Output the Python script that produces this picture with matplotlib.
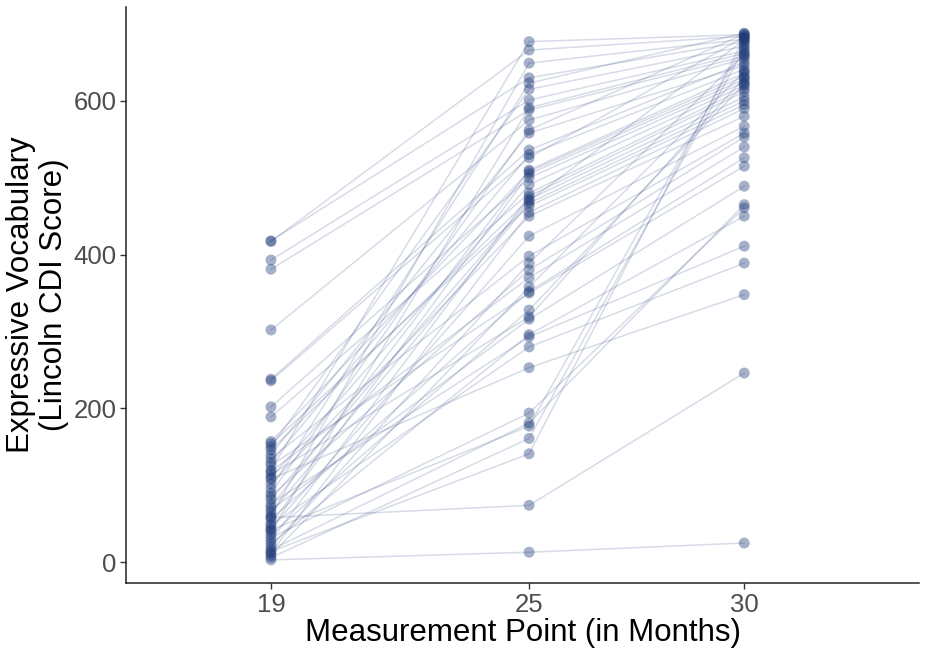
import matplotlib
matplotlib.use("Agg")
import matplotlib.pyplot as plt

plt.rcParams['font.family'] = ['Liberation Sans', 'DejaVu Sans']

months = [19, 25, 30]

# one entry per child: score at 19, 25 and 30 months
score_19 = [120, 417, 60, 418, 96, 150, 393, 40, 381, 302,
            90, 140, 238, 130, 236, 72, 157, 50, 202, 110,
            189, 28, 146, 82, 64, 154, 12, 102, 44, 135,
            20, 86, 118, 9, 56, 126, 36, 114, 68, 24,
            76, 48, 108, 32, 16, 42, 6, 14, 58, 3]
score_25 = [677, 666, 649, 630, 623, 615, 601, 591, 588, 575,
            562, 558, 536, 530, 526, 510, 508, 505, 500, 491,
            480, 476, 472, 470, 467, 463, 455, 450, 424, 398,
            389, 380, 370, 358, 352, 350, 328, 319, 316, 296,
            293, 280, 253, 194, 181, 177, 161, 141, 74, 13]
score_30 = [686, 684, 680, 677, 688, 671, 665, 662, 658, 655,
            687, 646, 650, 641, 683, 636, 632, 628, 624, 620,
            616, 612, 605, 679, 600, 595, 590, 580, 567, 558,
            660, 553, 540, 638, 526, 515, 622, 630, 489, 450,
            411, 389, 348, 461, 465, 674, 668, 682, 246, 25]

navy = '#1f3a7a'

fig = plt.figure(figsize=(9.29, 6.49), dpi=100)
ax = fig.add_axes([0.1356, 0.1017, 0.854, 0.8875])

for a, b, c in zip(score_19, score_25, score_30):
    ax.plot(months, [a, b, c], color=navy, alpha=0.18, lw=1.1, zorder=1)
for m, vals in zip(months, [score_19, score_25, score_30]):
    ax.scatter([m] * len(vals), vals, s=62, color=navy, alpha=0.4,
               edgecolors='none', zorder=2)

ax.set_xlim(15.63, 34.07)
ax.set_ylim(-27, 722)
ax.set_xticks(months)
ax.set_yticks([0, 200, 400, 600])

for side in ['top', 'right']:
    ax.spines[side].set_visible(False)
for side in ['left', 'bottom']:
    ax.spines[side].set_color('#222222')
    ax.spines[side].set_linewidth(1.1)

ax.tick_params(length=4, width=1, color='#333333', labelsize=18.5,
               labelcolor='#4d4d4d', pad=3)

ax.set_xlabel('Measurement Point (in Months)', fontsize=22.5, labelpad=1)
ax.set_ylabel('Expressive Vocabulary\n(Lincoln CDI Score)', fontsize=22.5,
              labelpad=3, linespacing=1.15)

fig.savefig('out.png', dpi=100)
